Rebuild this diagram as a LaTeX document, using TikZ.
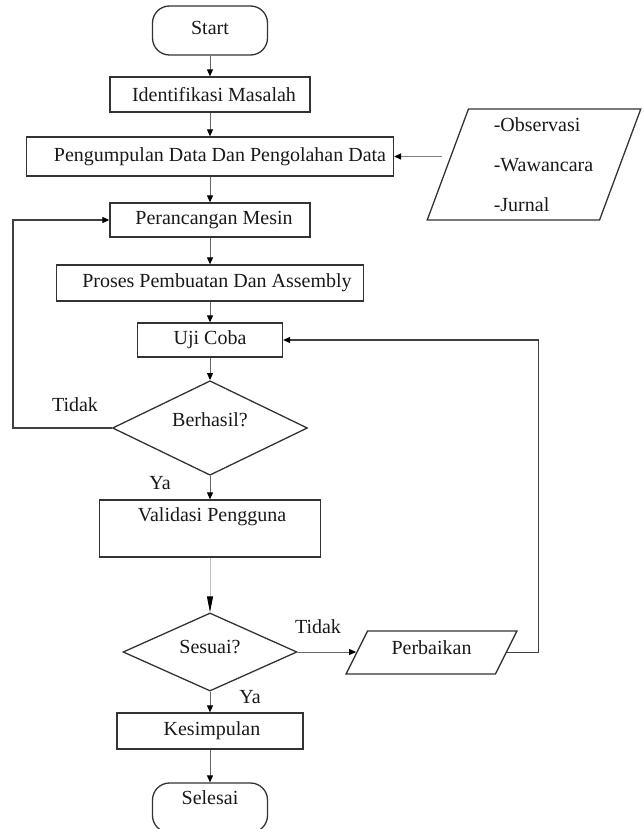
\documentclass[tikz,border=0pt]{standalone}
\usepackage{fontspec}
\setmainfont{Liberation Serif}
\usetikzlibrary{shapes.geometric,arrows.meta}

\begin{document}
\begin{tikzpicture}[x=1pt,y=-1pt,
  every node/.style={font=\fontsize{20}{24}\selectfont, text=black!90},
  box/.style={draw=black!80, line width=1.3pt, rectangle, inner sep=0pt, minimum height=35pt},
  term/.style={draw=black!80, line width=1.3pt, rectangle, rounded corners=17pt, inner sep=0pt, minimum width=115pt},
  decision/.style={draw=black!80, line width=1.3pt, diamond, inner sep=0pt},
  io/.style={draw=black!80, line width=1.3pt, trapezium, trapezium stretches=true, inner sep=0pt},
  head/.style={-{Triangle[length=7pt,width=6pt,black]}},
  flow/.style={draw=black!60, line width=0.9pt, head},
  loopline/.style={draw=black!75, line width=1.1pt, head},
  tag/.style={inner sep=0pt}
]
\useasboundingbox (0,0) rectangle (643,829);

% main column
\node[term, text height=28.5pt, text depth=20.5pt] (start) at (210,30.5) {Start};
\node[box, minimum width=200pt, minimum height=35pt] (ident) at (210,94.5) {\hspace*{8pt}Identifikasi Masalah};
\node[box, minimum width=367pt, minimum height=39pt] (kumpul) at (210,156.5) {\hspace*{20pt}Pengumpulan Data Dan Pengolahan Data};
\node[box, minimum width=200pt, minimum height=34pt] (rancang) at (210,220) {\hspace*{8pt}Perancangan Mesin};
\node[box, minimum width=307pt, minimum height=36pt] (proses) at (210,283) {\hspace*{14pt}Proses Pembuatan Dan Assembly};
\node[box, minimum width=145pt, minimum height=34pt] (uji) at (210,340) {Uji Coba};
\node[decision, minimum width=195pt, minimum height=90pt, text height=8pt, text depth=11pt] (berhasil) at (210,428) {Berhasil?};
\node[box, minimum width=221pt, text height=21.5pt, text depth=35.5pt] (validasi) at (210,528.5) {\hspace*{4pt}Validasi Pengguna};
\node[decision, minimum width=174pt, minimum height=62pt, text height=10pt, text depth=7pt] (sesuai) at (210,652) {Sesuai?};
\node[box, minimum width=186pt, minimum height=36pt] (kesimpulan) at (210,731) {\hspace*{4pt}Kesimpulan};
\node[term, text height=21.5pt, text depth=28pt] (selesai) at (210,807.75) {Selesai};

% side shapes
\node[io, trapezium left angle=68.4, trapezium right angle=111.6,
      minimum width=214pt, minimum height=111pt, align=left] (inputs) at (534,164.5)
  {\hspace*{19pt}-Observasi\\[16pt]\hspace*{19pt}-Wawancara\\[16pt]\hspace*{19pt}-Jurnal};
\node[io, trapezium left angle=51.7, trapezium right angle=128.3,
      minimum width=171pt, minimum height=43pt, text height=10pt, text depth=7pt] (perbaikan) at (431.5,652.5) {Perbaikan};

% branch labels
\node[tag] (tidakA) at (75,405) {Tidak};
\node[tag] (yaA) at (160,483) {Ya};
\node[tag] (tidakB) at (318,627) {Tidak};
\node[tag] (yaB) at (250,697) {Ya};

% connectors
\draw[flow] (start.south) -- (ident.north);
\draw[flow] (ident.south) -- (kumpul.north);
\draw[flow] (kumpul.south) -- (rancang.north);
\draw[flow] (rancang.south) -- (proses.north);
\draw[flow] (proses.south) -- (uji.north);
\draw[flow] (uji.south) -- (berhasil.north);
\draw[flow] (berhasil.south) -- (validasi.north);
\draw[flow, draw=black!25, -{Triangle[length=16pt,width=6pt,black]}] (validasi.south) -- (sesuai.north);
\draw[flow] (sesuai.south) -- (kesimpulan.north);
\draw[flow] (kesimpulan.south) -- (selesai.north);
\draw[flow, draw=black!50, line width=1.3pt, shorten <=5pt] (kumpul.east -| inputs.west) -- (kumpul.east);
\draw[flow] (sesuai.east) -- (sesuai.east -| perbaikan.west);

\coordinate (loopL) at (13,428);
\draw[loopline] (berhasil.west) -- (loopL) |- (rancang.west);
\draw[loopline] (perbaikan.east) -- ++(32,0) |- (uji.east);
\end{tikzpicture}
\end{document}
